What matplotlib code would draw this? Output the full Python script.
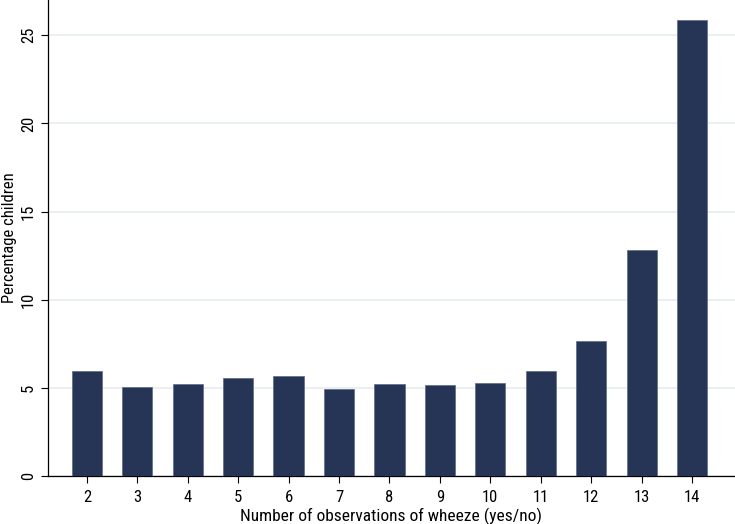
import matplotlib
matplotlib.use('Agg')
import matplotlib.pyplot as plt

# number of observations of wheeze and percentage of children
n_obs = [2, 3, 4, 5, 6, 7, 8, 9, 10, 11, 12, 13, 14]
pct_children = [5.95, 5.05, 5.2, 5.55, 5.67, 4.93, 5.2, 5.15, 5.3, 5.95, 7.65, 12.8, 25.85]
y_ticks = [0, 5, 10, 15, 20, 25]

plt.rcParams['font.family'] = ['Roboto Condensed', 'Liberation Sans', 'DejaVu Sans']

fig = plt.figure(figsize=(7.35, 5.24), dpi=100)
ax = fig.add_axes([48/735, 48/524, 1 - 48/735, 476/524])

ax.bar(n_obs, pct_children, width=0.6, color='#263556', edgecolor='#5a6a8a', linewidth=0.5, zorder=3)

ax.set_xlim(1.23, 14.85)
ax.set_ylim(0, 27)
ax.set_xticks(n_obs)
ax.set_xticklabels([str(v) for v in n_obs])
ax.set_yticks(y_ticks)
ax.set_yticklabels([str(v) for v in y_ticks], rotation=90, va='center')
ax.tick_params(axis='both', labelsize=12, color='black', length=5, width=0.8)
ax.tick_params(axis='x', pad=5)
ax.grid(axis='y', color='#e6eef0', linewidth=1.2, zorder=0)
ax.set_axisbelow(True)

for s in ['top', 'right']:
    ax.spines[s].set_visible(False)
ax.spines['left'].set_linewidth(0.9)
ax.spines['bottom'].set_linewidth(0.9)

ax.set_xlabel('Number of observations of wheeze (yes/no)', fontsize=12.5, labelpad=2)
ax.set_ylabel('Percentage children', fontsize=12, labelpad=3)

fig.savefig('out.png', dpi=100)
